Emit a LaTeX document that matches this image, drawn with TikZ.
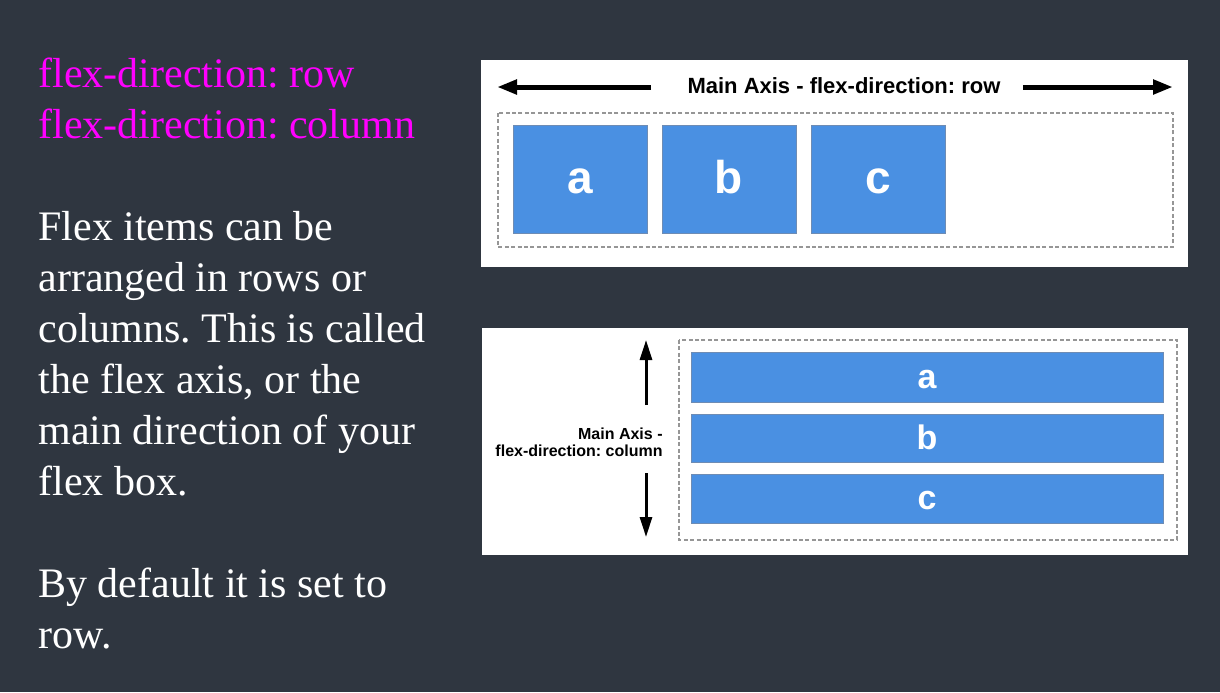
\documentclass[tikz,border=0pt]{standalone}
\usepackage{fontspec}
\setmainfont{Liberation Serif}
\newfontfamily\arialfont{Liberation Sans}
\usetikzlibrary{arrows.meta}
\frenchspacing

\definecolor{slidebg}{RGB}{47,54,64}
\definecolor{flexblue}{RGB}{74,144,226}
\definecolor{flexedge}{RGB}{110,140,180}
\definecolor{dashgray}{RGB}{150,150,150}
\definecolor{hotpink}{RGB}{255,0,255}

\begin{document}
\begin{tikzpicture}[x=0.5pt, y=-0.5pt,
    panel/.style={fill=white, draw=none},
    container/.style={draw=dashgray, line width=0.8pt, dash pattern=on 2pt off 1.2pt},
    item/.style={fill=flexblue, draw=flexedge, line width=0.4pt, text=white,
      inner sep=0pt, text depth=0pt},
    rowitem/.style={item, minimum width=67pt, minimum height=54pt, text height=14pt,
      font=\arialfont\bfseries\fontsize{23}{23}\selectfont},
    colitem/.style={item, minimum width=236pt, text height=11pt,
      font=\arialfont\bfseries\fontsize{17}{17}\selectfont},
    bigarrow/.style={line width=2.5pt, -{Triangle[length=10pt, width=7pt]}},
    thinarrow/.style={line width=1.5pt, -{Triangle[length=10pt, width=6pt]}}]
  \useasboundingbox (0,0) rectangle (1220,692);
  \fill[slidebg] (0,0) rectangle (1220,692);

  % Left column text
  \node[anchor=north west, inner sep=0pt, align=left, text=white,
    font=\fontsize{21}{25.5}\selectfont] (blurb) at (38,58)
    {\textcolor{hotpink}{flex-direction: row}\\
     \textcolor{hotpink}{flex-direction: column}\\[25.5pt]
     Flex items can be\\
     arranged in rows or\\
     columns. This is called\\
     the flex axis, or the\\
     main direction of your\\
     flex box.\\[25.5pt]
     By default it is set to\\
     row.};

  % Row panel
  \fill[panel] (481,60) rectangle (1188,267);
  \draw[container] (498,113) rectangle (1173,247);
  \node[font=\arialfont\bfseries\fontsize{11}{11}\selectfont, inner sep=0pt] (rowtitle) at (844,86) {Main Axis - flex-direction: row};
  \coordinate (rowL) at (497,87);
  \coordinate (rowR) at (1173,87);
  \draw[bigarrow] ([xshift=-18pt]rowtitle.west |- rowL) -- (rowL);
  \draw[bigarrow] ([xshift=11pt]rowtitle.east |- rowR) -- (rowR);
  \node[rowitem] (ra) at (580,179) {a};
  \node[rowitem] (rb) at (729,179) {b};
  \node[rowitem] (rc) at (878,179) {c};

  % Column panel
  \fill[panel] (482,328) rectangle (1188,555);
  \draw[container] (679,340) rectangle (1177,540);
  \node[colitem, minimum height=25pt] (ca) at (927,377) {a};
  \node[colitem, minimum height=24pt] (cb) at (927,438) {b};
  \node[colitem, minimum height=24.5pt] (cc) at (927,498.5) {c};
  \node[anchor=east, align=right, inner sep=0pt,
    font=\arialfont\bfseries\fontsize{8}{8.6}\selectfont] (coltitle) at (663,442)
    {Main Axis -\\flex-direction: column};
  \coordinate (colT) at (646,340);
  \coordinate (colB) at (646,537);
  \draw[thinarrow] (646,405) -- (colT);
  \draw[thinarrow] (646,473) -- (colB);
\end{tikzpicture}
\end{document}
